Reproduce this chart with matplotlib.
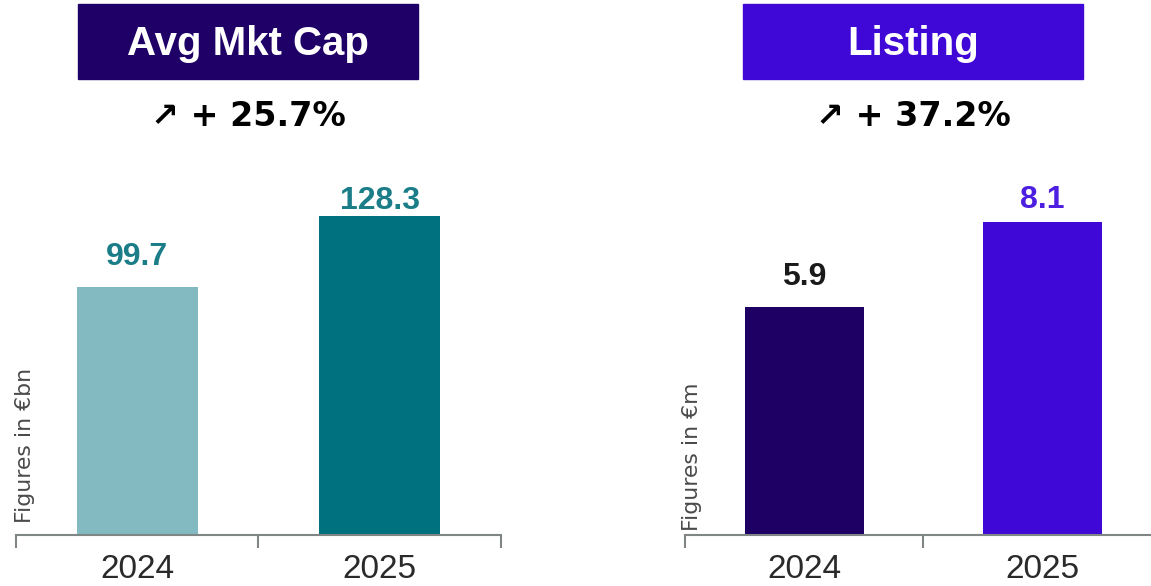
import matplotlib
matplotlib.use("Agg")
from matplotlib import pyplot as plt
from matplotlib.patches import Rectangle

W, H = 1151, 586

# data
years = ["2024", "2025"]
mktcap = [99.7, 128.3]
listing = [5.9, 8.1]
mktcap_growth = "\u2197 + 25.7%"
listing_growth = "\u2197 + 37.2%"

fig = plt.figure(figsize=(W / 100, H / 100), dpi=100)


def px(x0, y0, x1, y1):
    # pixel box (from top-left) -> figure fractions
    return [x0 / W, 1 - y1 / H, (x1 - x0) / W, (y1 - y0) / H]


def panel(rect, values, ymax, colors, label_colors, offsets, ylabel, ylab_x, ylab_y):
    ax = fig.add_axes(rect)
    x = list(range(len(values)))
    ax.bar(x, values, width=0.5, color=colors)
    ax.set_xlim(-0.5, len(values) - 0.5)
    ax.set_ylim(0, ymax)
    for s in ["top", "left", "right"]:
        ax.spines[s].set_visible(False)
    ax.spines["bottom"].set_color("#808586")
    ax.spines["bottom"].set_linewidth(1.5)
    ax.set_yticks([])
    ax.set_xticks(x)
    ax.set_xticklabels(years, fontsize=24, family="Liberation Sans", color="#2a2a2a")
    ax.tick_params(axis="x", which="major", length=0, pad=14)
    ax.set_xticks([i - 0.5 for i in range(len(values) + 1)], minor=True)
    ax.tick_params(axis="x", which="minor", length=9.5, width=1.5, color="#808586", direction="out")
    for xi, v, c, off in zip(x, values, label_colors, offsets):
        ax.annotate(f"{v}", (xi, v), xytext=(0, off), textcoords="offset points",
                    ha="center", va="baseline", fontsize=23, fontweight="bold",
                    family="Liberation Sans", color=c)
    fig.text(ylab_x / W, 1 - ylab_y / H, ylabel, rotation=90, ha="center", va="bottom",
             fontsize=15.8, color="#4a4a4a")
    return ax


panel(px(16, 150, 501, 535), mktcap, 154.7, ["#83b9c1", "#00717e"],
      ["#1a7d88", "#1a7d88"], [16, 5], "Figures in \u20acbn", 25, 523)
panel(px(685, 150, 1161, 535), listing, 9.97, ["#1e0064", "#3f08d7"],
      ["#1a1a1a", "#4d1fe0"], [16, 10], "Figures in \u20acm", 692, 531)

# title boxes
for (x0, x1), title, col, growth in [((78, 418), "Avg Mkt Cap", "#1f0066", mktcap_growth),
                                    ((743, 1083), "Listing", "#3f08d7", listing_growth)]:
    fig.patches.append(Rectangle((x0 / W, 1 - 79 / H), (x1 - x0) / W, 75 / H,
                                 transform=fig.transFigure, color=col))
    cx = (x0 + x1) / 2 / W
    fig.text(cx, 1 - 55 / H, title, ha="center", va="baseline", fontsize=29,
             fontweight="bold", family="Liberation Sans", color="white")
    fig.text(cx, 1 - 126 / H, growth, ha="center", va="baseline", fontsize=24,
             fontweight="bold", family="DejaVu Sans", color="black")

fig.savefig("out.png", dpi=100)
